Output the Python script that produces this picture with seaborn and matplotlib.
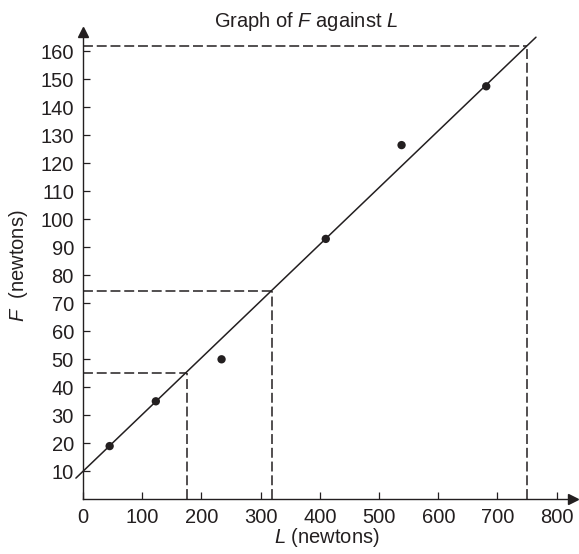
import numpy as np
import matplotlib
matplotlib.use("Agg")
from matplotlib import pyplot as plt
import seaborn as sns

load_L = [45, 123, 234, 410, 538, 681]
force_F = [19, 35, 50, 93, 126.5, 147.5]

# best fit line: F = intercept + gradient * L, drawn between these L values
fit_intercept = 10
fit_gradient = (162 - 10) / 750
fit_L = [-12, 765]

# dashed read-off lines
read_L = [175, 319, 750]
read_F = [45, 74.5, 162]

x_ticks = [0, 100, 200, 300, 400, 500, 600, 700, 800]
y_ticks = [10, 20, 30, 40, 50, 60, 70, 80, 90, 100, 110, 120, 130, 140, 150, 160]

ink = '#231f20'
fs = 14.5

sns.set_style("ticks")
plt.rcParams['font.family'] = ['Liberation Sans', 'DejaVu Sans']
plt.rcParams['mathtext.fontset'] = 'custom'
plt.rcParams['mathtext.rm'] = 'Liberation Sans'
plt.rcParams['mathtext.it'] = 'Liberation Sans:italic'

fig = plt.figure(figsize=(5.79, 5.54), dpi=100)
ax = fig.add_axes([0.1229, 0.07347, 0.8662, 0.8688])
x_max, y_max = 827, 166.9
ax.set_xlim(-20, x_max)
ax.set_ylim(-5, y_max)

# dashed construction lines
ax.hlines(read_F, 0, read_L, colors=ink, linewidth=1.1, linestyles=(0, (6.5, 2.5)))
ax.vlines(read_L, 0, read_F, colors=ink, linewidth=1.1, linestyles=(0, (6.5, 2.5)))

# fitted line
line_F = [fit_intercept + fit_gradient * v for v in fit_L]
sns.lineplot(x=fit_L, y=line_F, ax=ax, color=ink, linewidth=1.1)

# data points
sns.scatterplot(x=load_L, y=force_F, ax=ax, color=ink, s=36, edgecolor='none', zorder=5)

# axes styled as arrows through the origin
for side in ['top', 'right']:
    ax.spines[side].set_visible(False)
ax.spines['left'].set_position(('data', 0))
ax.spines['bottom'].set_position(('data', 0))
ax.spines['left'].set_bounds(0, y_max)
ax.spines['bottom'].set_bounds(0, x_max)
for side in ['left', 'bottom']:
    ax.spines[side].set_linewidth(1.0)
    ax.spines[side].set_color(ink)
ax.plot(1, 0, '>', color=ink, markersize=7, transform=ax.get_yaxis_transform(), clip_on=False)
ax.plot(0, 1, '^', color=ink, markersize=7, transform=ax.get_xaxis_transform(), clip_on=False)

ax.set_xticks(x_ticks)
ax.set_yticks(y_ticks)
ax.tick_params(direction='in', length=5, width=0.9, color=ink, labelcolor=ink,
               labelsize=fs, pad=6.5)

ax.set_xlabel('$L$ (newtons)', fontsize=fs, color=ink)
ax.set_ylabel('$F$  (newtons)', fontsize=fs, color=ink)
ax.xaxis.set_label_coords(0.510, -0.026)
ax.yaxis.set_label_coords(-0.082, 0.514)

fig.text(0.528, 0.9513, 'Graph of $F$ against $L$', ha='center', va='baseline',
         fontsize=fs, color=ink)

fig.savefig('out.png', dpi=100)
